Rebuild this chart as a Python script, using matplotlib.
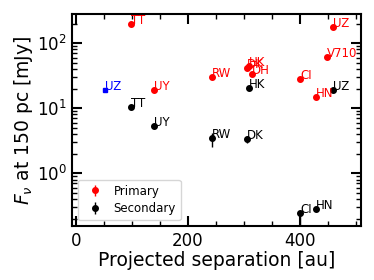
"""
Flux density at 150 pc against projected separation for primaries and secondaries
"""
import numpy as np
import matplotlib
matplotlib.use("agg")  # noqa: E402
import matplotlib.pyplot as plt
from matplotlib.ticker import MultipleLocator

names = ['TT', 'UY', 'RW', 'DK', 'HK', 'DH', 'CI', 'HN', 'V710', 'UZ']
separation = [98, 139, 243, 305, 309, 315, 401, 429, 448, 460]
primary_flux = [198, 19.0, 30.3, 41.7, 44.0, 33.4, 28.5, 14.9, 62.0, 176]
primary_err = [4, 0.5, 0.8, 1.0, 1.0, 0.8, 0.8, 0.6, 1.5, 4]
secondary_flux = [10.6, 5.4, 3.45, 3.37, 20.3, np.nan, 0.245, 0.28, np.nan, 19.1]
secondary_err_lo = [0.3, 0.3, 0.9, 0.5, 0.6, np.nan, 0.24, 0.02, np.nan, 0.5]
secondary_err_hi = [0.3, 0.3, 0.7, 0.4, 0.6, np.nan, 0.02, 0.02, np.nan, 0.5]

# the tight pair in UZ
extra_name = 'UZ'
extra_sep = [51]
extra_flux = [19.1]
extra_err = [0.6]


def main():
    fig = plt.figure(figsize=(3.74, 2.80), dpi=100)
    ax = fig.add_axes([0.193, 0.193, 0.773, 0.757])

    ax.errorbar(separation, primary_flux, yerr=primary_err, fmt='o',
                color='red', markersize=4, elinewidth=1, label='Primary')
    ax.errorbar(separation, secondary_flux,
                yerr=[secondary_err_lo, secondary_err_hi], fmt='o',
                color='black', markersize=4, elinewidth=1, label='Secondary')
    ax.errorbar(extra_sep, extra_flux, yerr=extra_err, fmt='s',
                color='blue', markersize=3.5, elinewidth=1)

    for name, x, y in zip(names, separation, primary_flux):
        ax.text(x, y, name, color='red', fontsize=8.5,
                ha='left', va='baseline')
    for name, x, y in zip(names, separation, secondary_flux):
        if np.isfinite(y):
            ax.text(x, y, name, color='black', fontsize=8.5,
                    ha='left', va='baseline')
    ax.text(extra_sep[0], extra_flux[0], extra_name, color='blue',
            fontsize=8.5, ha='left', va='baseline')

    ax.set_yscale('log')
    ax.set_xlim(-7, 510)
    ax.set_ylim(0.155, 280)
    ax.xaxis.set_major_locator(MultipleLocator(200))
    ax.xaxis.set_minor_locator(MultipleLocator(50))

    ax.tick_params(which='both', direction='in', top=True, right=True,
                   labelsize=12)
    ax.tick_params(which='major', length=7, width=1.5, pad=4)
    ax.tick_params(which='minor', length=3.5, width=1)
    for spine in ax.spines.values():
        spine.set_linewidth(1.5)

    ax.set_xlabel("Projected separation [au]", fontsize=13.5, labelpad=1)
    ax.set_ylabel(r"$F_\nu$ at 150 pc [mJy]", fontsize=13.5, labelpad=1)
    ax.legend(loc='lower left', fontsize=8.5, handletextpad=0.6,
              borderpad=0.4, labelspacing=0.4)

    fig.savefig('out.png', dpi=100)


if __name__ == '__main__':
    main()
